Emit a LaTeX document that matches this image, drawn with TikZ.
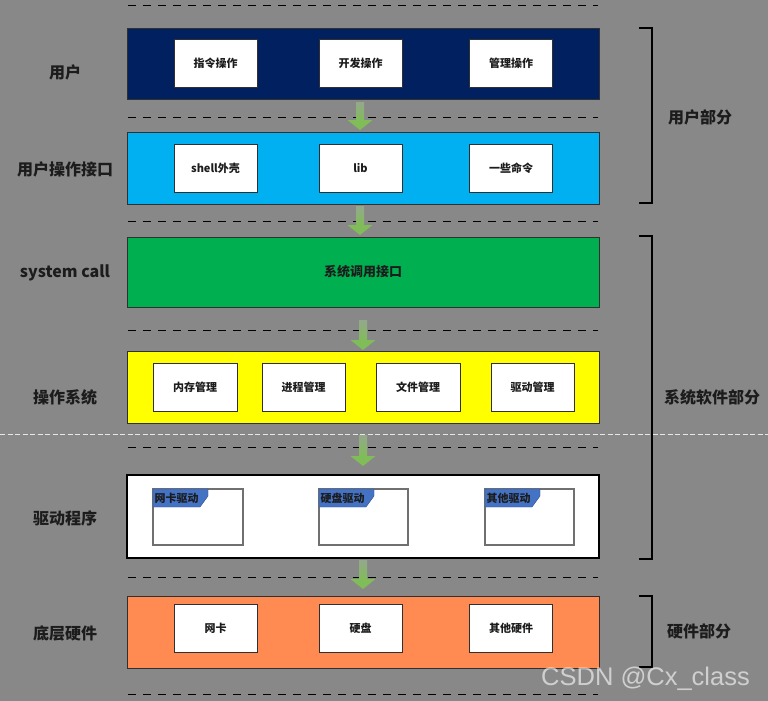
\documentclass[tikz,border=0pt]{standalone}
\usepackage{fontspec}
\setmainfont{Noto Sans CJK SC}
\newfontfamily\wmfont{Liberation Sans}
\usetikzlibrary{calc}
\definecolor{bgc}{HTML}{888888}
\definecolor{navyc}{HTML}{002060}
\definecolor{cyanc}{HTML}{00B0F0}
\definecolor{greenc}{HTML}{00B050}
\definecolor{yellowc}{HTML}{FFFF00}
\definecolor{orangec}{HTML}{FF8A52}
\definecolor{tagblue}{HTML}{4472C4}
\definecolor{arrowgreen}{HTML}{80BC58}
\definecolor{arrowtop}{HTML}{94A88C}
\definecolor{txt}{HTML}{1C1C1C}
\definecolor{edge}{HTML}{303030}
\definecolor{drvedge}{HTML}{707070}
\newcommand\flowarrow[2]{%
  \path (#1) coordinate (fa-s) (#2) coordinate (fa-e);
  \shade[top color=arrowtop, bottom color=arrowgreen] ($(fa-s)+(-4,0)$) rectangle ($(fa-e)+(4,-10)$);
  \fill[arrowgreen] ($(fa-e)+(-12.5,-10)$) -- ($(fa-e)+(12.5,-10)$) -- (fa-e) -- cycle;
}
\newcommand\drvtag[2]{%
  \fill[tagblue, draw=tagblue!70!black, line width=0.4pt] (#1.north west) -- ++(55,0) -- ++(0,7) -- ++(-8,11) -- ++(-47,0) -- cycle;
  \node[tagtext, anchor=west] at ($(#1.north west)+(1.5,9)$) {#2};
}
\begin{document}
\begin{tikzpicture}[x=1pt,y=-1pt,
  layer/.style={draw=edge, line width=0.8pt, minimum width=472pt, inner sep=0pt, outer sep=0pt},
  item/.style={draw=edge, fill=white, line width=0.8pt, minimum width=83pt, minimum height=48pt, inner sep=0pt, outer sep=0pt, font=\bfseries\fontsize{11}{13}\selectfont, text=txt},
  drv/.style={draw=drvedge, fill=white, line width=1.1pt, minimum width=89pt, minimum height=56pt, inner sep=0pt, outer sep=0pt},
  tagtext/.style={font=\bfseries\fontsize{11}{12}\selectfont, text=txt, inner sep=0pt},
  lbl/.style={font=\bfseries\fontsize{16}{19}\selectfont, text=txt, inner sep=0pt},
  sepline/.style={draw=black, line width=0.9pt, dash pattern=on 7.5pt off 7.5pt},
  bracket/.style={draw=black, line width=2pt}
]
\useasboundingbox (0,0) rectangle (768,701);
\fill[bgc] (0,0) rectangle (768,701);

% separators
\foreach \yy in {5,117,221,330,447,577,694}
  \draw[sepline] (128,\yy) -- (598,\yy);
\draw[draw=white!80!bgc, line width=0.8pt, dash pattern=on 5pt off 2.5pt] (0,434) -- (768,434);

% layers
\node[layer, fill=navyc, minimum height=71pt] (L1) at (363,63.5) {};
\node[layer, fill=cyanc, minimum height=72pt] (L2) at (363,168) {};
\node[layer, fill=greenc, minimum height=70pt, font=\bfseries\fontsize{13}{15}\selectfont, text=txt] (L3) at (363,272) {系统调用接口};
\node[layer, fill=yellowc, minimum height=72pt] (L4) at (363,387) {};
\node[layer, fill=white, draw=black, line width=1.2pt, minimum height=83pt] (L5) at (363,516.5) {};
\node[layer, fill=orangec, minimum height=72pt] (L6) at (363,632) {};

% row 1
\node[item] (u1) at (215.5,63) {指令操作};
\node[item] (u2) at (360.5,63) {开发操作};
\node[item] (u3) at (511,63) {管理操作};
% row 2
\node[item] (i1) at (215.5,168.5) {shell外壳};
\node[item] (i2) at (360.5,168.5) {lib};
\node[item] (i3) at (511,168.5) {一些命令};
% row 4
\node[item, minimum width=84pt] (o1) at (195,387) {内存管理};
\node[item] (o2) at (303.5,387) {进程管理};
\node[item, minimum width=84pt] (o3) at (418,387) {文件管理};
\node[item] (o4) at (532.5,387) {驱动管理};
% row 5
\node[drv, minimum width=90pt] (d1) at (198,517) {};
\node[drv] (d2) at (363.5,517) {};
\node[drv] (d3) at (529.5,517) {};
\drvtag{d1}{网卡驱动}
\drvtag{d2}{硬盘驱动}
\drvtag{d3}{其他驱动}
% row 6
\node[item] (h1) at (215.5,628.5) {网卡};
\node[item] (h2) at (360.5,628.5) {硬盘};
\node[item] (h3) at (511,628.5) {其他硬件};

% arrows
\flowarrow{$(L1.south)+(-3,3)$}{$(L2.north)+(-3,-2)$}
\flowarrow{$(L2.south)+(-3,2)$}{$(L3.north)+(-3,-2)$}
\flowarrow{$(L3.south)+(0,13)$}{$(L4.north)+(0,-1)$}
\flowarrow{$(L4.south)+(0,12)$}{$(L5.north)+(0,-9)$}
\flowarrow{$(L5.south)+(0,2)$}{$(L6.north)+(0,-7)$}

% left labels
\node[lbl] (t1) at (65,72) {用户};
\node[lbl] (t2) at (65,169) {用户操作接口};
\node[lbl] (t3) at (65,273) {system call};
\node[lbl] (t4) at (65,397) {操作系统};
\node[lbl] (t5) at (65,518) {驱动程序};
\node[lbl] (t6) at (65,633) {底层硬件};

% brackets
\draw[bracket] (639,28) -- (652,28) -- (652,203) -- (639,203);
\draw[bracket] (639,236) -- (652,236) -- (652,559) -- (639,559);
\draw[bracket] (639,596) -- (652,596) -- (652,667) -- (639,667);
\node[lbl] (g1) at (700,117) {用户部分};
\node[lbl] (g2) at (712,397) {系统软件部分};
\node[lbl] (g3) at (699,631) {硬件部分};

% watermark
\node[anchor=base west, inner sep=0pt, text=white, text opacity=0.6, font=\wmfont\fontsize{25.5}{29}\selectfont] (wm) at (541,685) {CSDN @Cx\_class};
\end{tikzpicture}
\end{document}
